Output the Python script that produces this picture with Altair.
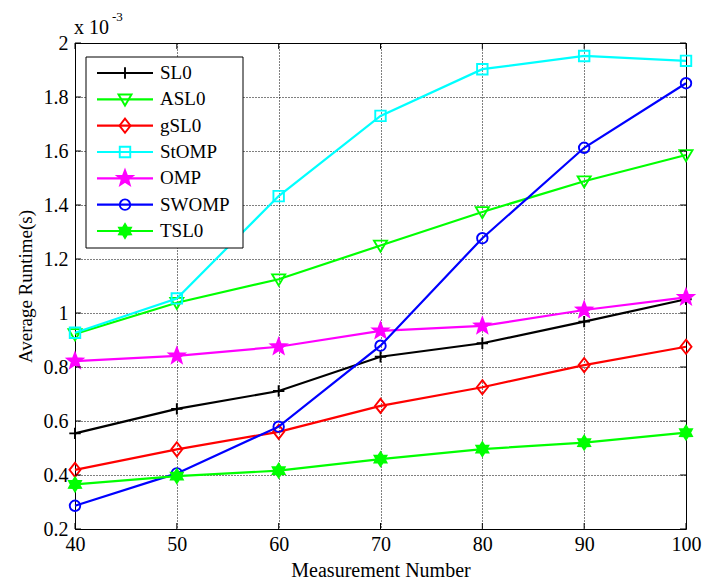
import math
import altair as alt
import pandas as pd

# ---- data (values in units of 1e-3 s) ----
measurements = [40, 50, 60, 70, 80, 90, 100]
series_names = ["SL0", "ASL0", "gSL0", "StOMP", "OMP", "SWOMP", "TSL0"]
sl0 = [0.554, 0.645, 0.711, 0.838, 0.888, 0.968, 1.051]
asl0 = [0.922, 1.038, 1.125, 1.250, 1.374, 1.488, 1.585]
gsl0 = [0.419, 0.495, 0.560, 0.656, 0.725, 0.807, 0.875]
stomp = [0.927, 1.054, 1.433, 1.730, 1.903, 1.952, 1.934]
omp = [0.822, 0.841, 0.875, 0.934, 0.952, 1.011, 1.058]
swomp = [0.286, 0.406, 0.579, 0.879, 1.277, 1.612, 1.851]
tsl0 = [0.365, 0.396, 0.416, 0.459, 0.496, 0.520, 0.557]
series_values = [sl0, asl0, gsl0, stomp, omp, swomp, tsl0]
x_ticks = [40, 50, 60, 70, 80, 90, 100]
y_ticks = [0.2, 0.4, 0.6, 0.8, 1.0, 1.2, 1.4, 1.6, 1.8, 2.0]

FONT = "Liberation Serif, Times New Roman, serif"
W, H = 611, 486


def star_path(n, inner):
    pts = []
    for k in range(2 * n):
        r = 1.0 if k % 2 == 0 else inner
        a = -math.pi / 2 + k * math.pi / n
        pts.append((r * math.cos(a), r * math.sin(a)))
    return "M" + "L".join(f"{px:.3f},{py:.3f}" for px, py in pts) + "Z"


styles = {
    "SL0": dict(color="#000000", shape="M-1,0H1M0,-1V1", size=130, fill="transparent"),
    "ASL0": dict(color="#00ff00", shape="M-1,-0.75L1,-0.75L0,0.95Z", size=170, fill="transparent"),
    "gSL0": dict(color="#ff0000", shape="M0,-1L0.78,0L0,1L-0.78,0Z", size=200, fill="transparent"),
    "StOMP": dict(color="#00ffff", shape="M-1,-1H1V1H-1Z", size=110, fill="transparent"),
    "OMP": dict(color="#ff00ff", shape=star_path(5, 0.42), size=260, fill="#ff00ff"),
    "SWOMP": dict(color="#0000ff", shape="circle", size=110, fill="transparent"),
    "TSL0": dict(color="#00ff00", shape=star_path(6, 0.6), size=190, fill="#00ff00"),
}

x_scale = alt.Scale(domain=[40, 100], nice=False, zero=False)
y_scale = alt.Scale(domain=[0.2, 2.0], nice=False, zero=False)

x_enc = alt.X(
    "x:Q",
    scale=x_scale,
    axis=alt.Axis(
        values=x_ticks, grid=True, ticks=False, domain=False, labelFlush=False,
        labelFont=FONT, labelFontSize=20, labelColor="black", labelPadding=5,
        title="Measurement Number", titleFont=FONT, titleFontSize=20,
        titleFontWeight="normal", titleColor="black",
        titleY=47, titleBaseline="alphabetic",
        gridColor="black", gridDash=[1, 2], gridOpacity=1, gridWidth=1,
    ),
)
y_enc = alt.Y(
    "y:Q",
    scale=y_scale,
    axis=alt.Axis(
        values=y_ticks, format="~g", grid=True, ticks=False, domain=False,
        labelFlush=False,
        labelFont=FONT, labelFontSize=20, labelColor="black", labelPadding=7,
        title="Average Runtime(s)", titleFont=FONT, titleFontSize=19,
        titleFontWeight="normal", titleColor="black",
        titleX=-50, titleY=243, titleBaseline="middle", titleAngle=-90,
        gridColor="black", gridDash=[1, 2], gridOpacity=1, gridWidth=1,
    ),
)

main_layers = []

for name, vals in zip(series_names, series_values):
    st = styles[name]
    df = pd.DataFrame({"x": measurements, "y": vals, "name": name})
    base = alt.Chart(df)
    main_layers.append(
        base.mark_line(color=st["color"], strokeWidth=2.2).encode(x=x_enc, y=y_enc)
    )
    main_layers.append(
        base.mark_point(
            shape=st["shape"], size=st["size"], stroke=st["color"],
            fill=st["fill"], strokeWidth=1.9, opacity=1, filled=False,
        ).encode(x=x_enc, y=y_enc)
    )

# inner tick marks on all four sides (MATLAB style)
xt = alt.Chart(pd.DataFrame({"x": x_ticks}))
yt = alt.Chart(pd.DataFrame({"y": y_ticks}))
main_layers.append(xt.mark_rule(color="black", strokeWidth=1).encode(
    x=x_enc, y=alt.value(0), y2=alt.value(6)))
main_layers.append(xt.mark_rule(color="black", strokeWidth=1).encode(
    x=x_enc, y=alt.value(H - 6), y2=alt.value(H)))
main_layers.append(yt.mark_rule(color="black", strokeWidth=1).encode(
    y=y_enc, x=alt.value(0), x2=alt.value(6)))
main_layers.append(yt.mark_rule(color="black", strokeWidth=1).encode(
    y=y_enc, x=alt.value(W - 6), x2=alt.value(W)))

main = alt.layer(*main_layers)

# ---- manual legend ----
legend_y = alt.Y("idx:Q", scale=alt.Scale(domain=[0, 6], range=[30, 188]), axis=None)
box = alt.Chart(pd.DataFrame({"idx": [0]})).mark_rect(
    fill="white", stroke="black", strokeWidth=1
).encode(x=alt.value(11), x2=alt.value(168), y=alt.value(14), y2=alt.value(205))
legend_layers = [box]
for i, name in enumerate(series_names):
    st = styles[name]
    ldf = pd.DataFrame({"idx": [i], "name": [name]})
    lb = alt.Chart(ldf)
    legend_layers.append(
        lb.mark_rule(color=st["color"], strokeWidth=2.2).encode(
            x=alt.value(22), x2=alt.value(78), y=legend_y
        )
    )
    legend_layers.append(
        lb.mark_point(
            shape=st["shape"], size=st["size"], stroke=st["color"],
            fill=st["fill"], strokeWidth=1.9, opacity=1, filled=False,
        ).encode(x=alt.value(50), y=legend_y)
    )
    legend_layers.append(
        lb.mark_text(
            align="left", baseline="middle", font=FONT, fontSize=19, color="black"
        ).encode(x=alt.value(85), y=legend_y, text="name:N")
    )
legend = alt.layer(*legend_layers)

# ---- exponent annotation ----
one = pd.DataFrame({"k": [0]})
exp_base = alt.Chart(one).mark_text(
    align="left", baseline="alphabetic", font=FONT, fontSize=20, color="black"
).encode(x=alt.value(-1), y=alt.value(-9), text=alt.value("x 10"))
exp_sup = alt.Chart(one).mark_text(
    align="left", baseline="alphabetic", font=FONT, fontSize=13, color="black"
).encode(x=alt.value(37), y=alt.value(-22), text=alt.value("-3"))

chart = (
    alt.layer(main, legend, exp_base, exp_sup)
    .resolve_scale(y="independent")
    .properties(
        width=W,
        height=H,
        autosize=alt.AutoSizeParams(type="none"),
        padding={"left": 67, "top": 35, "right": 16, "bottom": 54},
        background="white",
    )
    .configure(font=FONT)
    .configure_view(stroke="black", strokeWidth=1)
)

chart.save("out.html", embed_options={"renderer": "svg", "actions": False})
